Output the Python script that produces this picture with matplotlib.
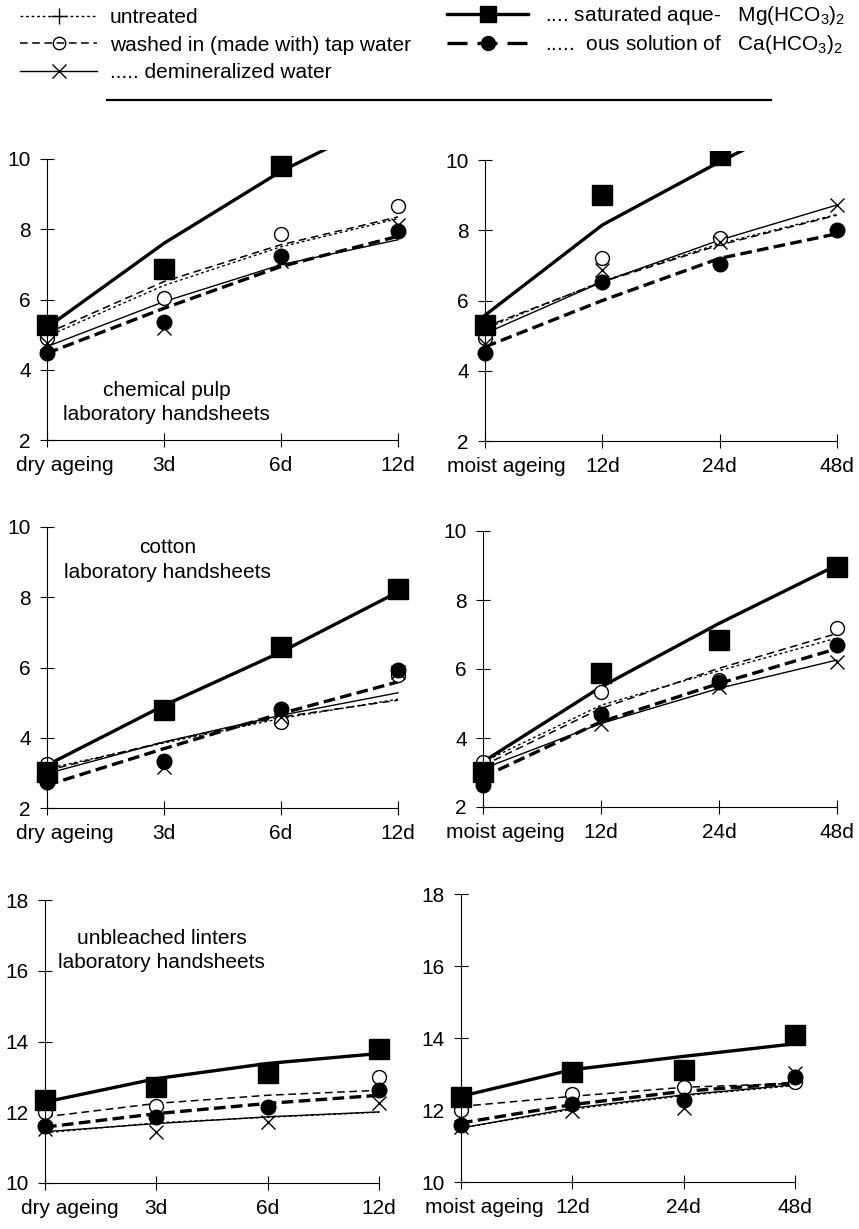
import matplotlib
matplotlib.use('Agg')
import matplotlib.pyplot as plt
from matplotlib.lines import Line2D
import numpy as np

plt.rcParams['font.family'] = ['Liberation Sans', 'DejaVu Sans']
plt.rcParams['mathtext.default'] = 'regular'
plt.rcParams['font.size'] = 15

W, H = 859, 1229

x_pos = [0, 1, 2, 3]
dry_labels = ['dry ageing', '3d', '6d', '12d']
moist_labels = ['moist ageing', '12d', '24d', '48d']

pulp_dry_pts = {
    'tap': [4.90, 6.04, 7.87, 8.65],
    'demin': [4.76, 5.18, 7.10, 8.13],
    'mg': [5.28, 6.86, 9.79, 11.40],
    'ca': [4.49, 5.37, 7.23, 7.96],
}
pulp_moist_pts = {
    'tap': [4.92, 7.20, 7.77, np.nan],
    'demin': [4.77, 6.86, 7.67, 8.72],
    'mg': [5.30, 9.00, 10.14, 11.90],
    'ca': [4.51, 6.53, 7.05, 8.00],
}
cotton_dry_pts = {
    'tap': [3.26, 3.30, 4.45, 5.78],
    'demin': [2.85, 3.17, 4.59, 5.87],
    'mg': [3.03, 4.78, 6.57, 8.24],
    'ca': [2.74, 3.33, 4.83, 5.92],
}
cotton_moist_pts = {
    'tap': [3.31, 5.34, 5.68, 7.18],
    'demin': [2.90, 4.42, 5.48, 6.21],
    'mg': [3.02, 5.87, 6.84, 8.95],
    'ca': [2.65, 4.71, 5.63, 6.71],
}
linters_dry_pts = {
    'tap': [12.01, 12.18, 12.15, 13.00],
    'demin': [11.54, 11.44, 11.73, 12.25],
    'mg': [12.36, 12.72, 13.12, 13.78],
    'ca': [11.60, 11.87, 12.15, 12.64],
}
linters_moist_pts = {
    'tap': [12.00, 12.45, 12.63, 12.79],
    'demin': [11.54, 11.96, 12.05, 13.03],
    'mg': [12.35, 13.05, 13.10, 14.07],
    'ca': [11.59, 12.17, 12.28, 12.91],
}

# trend lines at each ageing step
pulp_dry_fit = {
    'untreated': [4.95, 6.40, 7.50, 8.30],
    'tap': [5.04, 6.51, 7.56, 8.35],
    'demin': [4.66, 5.94, 6.99, 7.70],
    'mg': [5.20, 7.60, 9.65, 11.30],
    'ca': [4.47, 5.75, 6.94, 7.80],
}
pulp_moist_fit = {
    'untreated': [5.20, 6.55, 7.62, 8.45],
    'tap': [5.25, 6.53, 7.58, 8.43],
    'demin': [5.06, 6.53, 7.72, 8.72],
    'mg': [5.58, 8.15, 9.95, 11.60],
    'ca': [4.68, 6.00, 7.20, 7.90],
}
cotton_dry_fit = {
    'untreated': [3.12, 3.85, 4.55, 5.10],
    'tap': [3.07, 3.88, 4.59, 5.07],
    'demin': [2.98, 3.88, 4.64, 5.28],
    'mg': [3.22, 4.92, 6.44, 8.15],
    'ca': [2.65, 3.69, 4.69, 5.59],
}
cotton_moist_fit = {
    'untreated': [3.30, 4.95, 5.95, 6.90],
    'tap': [3.20, 4.86, 6.02, 7.03],
    'demin': [3.11, 4.42, 5.44, 6.26],
    'mg': [3.31, 5.48, 7.32, 9.01],
    'ca': [2.87, 4.47, 5.58, 6.59],
}
linters_dry_fit = {
    'untreated': [11.42, 11.70, 11.86, 12.00],
    'tap': [11.87, 12.25, 12.48, 12.62],
    'demin': [11.45, 11.68, 11.87, 12.01],
    'mg': [12.29, 12.95, 13.38, 13.66],
    'ca': [11.58, 11.96, 12.25, 12.48],
}
linters_moist_fit = {
    'untreated': [11.50, 12.02, 12.40, 12.68],
    'tap': [12.10, 12.38, 12.63, 12.74],
    'demin': [11.50, 12.05, 12.42, 12.70],
    'mg': [12.38, 13.12, 13.49, 13.84],
    'ca': [11.64, 12.15, 12.52, 12.75],
}

line_style = {
    'untreated': dict(lw=1.0, ls=(0, (2, 2))),
    'tap': dict(lw=1.1, ls=(0, (5, 3))),
    'demin': dict(lw=1.0, ls='-'),
    'mg': dict(lw=2.4, ls='-'),
    'ca': dict(lw=2.4, ls=(0, (3.5, 1.6))),
}
marker_style = {
    'tap': dict(marker='o', ms=10, mfc='white', mec='black', mew=1.0),
    'demin': dict(marker='x', ms=10, mec='black', mew=1.0),
    'mg': dict(marker='s', ms=15, mfc='black', mec='black'),
    'ca': dict(marker='o', ms=10.5, mfc='black', mec='black'),
}

fig = plt.figure(figsize=(W / 100, H / 100), dpi=100)


def panel(x0, x3, yb, yt, vb, vt, ticks, labels, first_dx, pts, fit, note, note_xy):
    # place axes so that given data values land on given pixel rows/cols
    pad_x = 0.15
    ylo, yhi = vb - 0.25, vt + 0.27
    ppx = (x3 - x0) / 3
    ppy = (yb - yt) / (vt - vb)
    left = x0 - pad_x * ppx
    right = x3 + pad_x * ppx
    bottom = yb + (vb - ylo) * ppy
    top = yt - (yhi - vt) * ppy
    ax = fig.add_axes([left / W, 1 - bottom / H, (right - left) / W, (bottom - top) / H])
    ax.set_xlim(-pad_x, 3 + pad_x)
    ax.set_ylim(ylo, yhi)
    ax.patch.set_visible(False)

    for key in ['untreated', 'tap', 'demin', 'mg', 'ca']:
        ax.plot(x_pos, fit[key], color='black', **line_style[key])
    for key in ['tap', 'demin', 'mg', 'ca']:
        ax.plot(x_pos, pts[key], ls='none', **marker_style[key])

    for s in ['top', 'right']:
        ax.spines[s].set_visible(False)
    ax.spines['left'].set_position(('data', 0))
    ax.spines['bottom'].set_position(('data', vb))
    ax.spines['left'].set_bounds(vb, vt)
    ax.spines['bottom'].set_bounds(0, 3)
    for s in ['left', 'bottom']:
        ax.spines[s].set_linewidth(0.8)

    ax.set_yticks(ticks)
    ax.set_xticks(x_pos)
    ax.set_xticklabels([''] + labels[1:])
    ax.tick_params(direction='inout', length=9.5, width=0.8, pad=7, labelsize=15)
    ax.annotate(labels[0], xy=(0, vb), xycoords='data',
                xytext=(first_dx, -11.75), textcoords='offset points',
                ha='center', va='top', fontsize=15)
    ax.text(note_xy[0], note_xy[1], note, ha='center', va='center',
            fontsize=15, linespacing=1.35)
    return ax


panel(47, 398, 440, 159, 2, 10, [2, 4, 6, 8, 10], dry_labels, 13,
      pulp_dry_pts, pulp_dry_fit, 'chemical pulp\nlaboratory handsheets', (1.02, 3.07))
panel(485, 837, 441, 160, 2, 10, [2, 4, 6, 8, 10], moist_labels, 15,
      pulp_moist_pts, pulp_moist_fit, '', (1, 3))
panel(47, 398, 808, 527, 2, 10, [2, 4, 6, 8, 10], dry_labels, 13,
      cotton_dry_pts, cotton_dry_fit, 'cotton\nlaboratory handsheets', (1.03, 9.06))
panel(483, 837, 807, 531, 2, 10, [2, 4, 6, 8, 10], moist_labels, 16,
      cotton_moist_pts, cotton_moist_fit, '', (1, 3))
panel(45, 379, 1183, 900, 10, 18, [10, 12, 14, 16, 18], dry_labels, 18,
      linters_dry_pts, linters_dry_fit, 'unbleached linters\nlaboratory handsheets', (1.05, 16.57))
panel(461, 795, 1182, 894, 10, 18, [10, 12, 14, 16, 18], moist_labels, 17,
      linters_moist_pts, linters_moist_fit, '', (1, 11))

# legend
left_handles = [
    Line2D([], [], color='black', lw=1.0, ls=(0, (2, 2)), marker='+', ms=12, mew=1.0),
    Line2D([], [], color='black', lw=1.1, ls=(0, (5, 3)), marker='o', ms=9, mfc='none', mew=1.0),
    Line2D([], [], color='black', lw=1.0, ls='-', marker='x', ms=10, mew=1.0),
]
left_labels = ['untreated', 'washed in (made with) tap water', '..... demineralized water']
right_handles = [
    Line2D([], [], color='black', lw=2.4, ls='-', marker='s', ms=11),
    Line2D([], [], color='black', lw=2.4, ls=(0, (6, 3)), marker='o', ms=10),
]
right_labels = ['.... saturated aque-   Mg(HCO$_3$)$_2$',
                '.....  ous solution of   Ca(HCO$_3$)$_2$']

fig.legend(left_handles, left_labels, loc='upper left', bbox_to_anchor=(20 / W, 1 - 8 / H),
           frameon=False, borderpad=0, borderaxespad=0, handlelength=3.7,
           handletextpad=0.6, labelspacing=0.42, fontsize=15)
fig.legend(right_handles, right_labels, loc='upper left', bbox_to_anchor=(447 / W, 1 - 4 / H),
           frameon=False, borderpad=0, borderaxespad=0, handlelength=3.9,
           handletextpad=0.8, labelspacing=0.3, fontsize=15)
fig.add_artist(Line2D([107 / W, 771 / W], [1 - 100 / H, 1 - 100 / H], color='black', lw=1.6))

fig.savefig('out.png', dpi=100)
